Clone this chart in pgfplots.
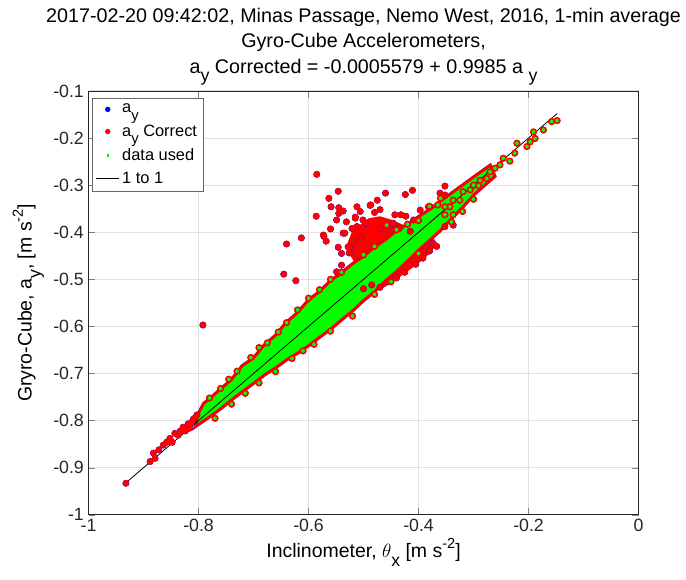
\documentclass[border=0pt]{standalone}
\usepackage{pgfplots}
\usepackage{pgfplotstable}
\pgfplotsset{compat=1.18}
\usepackage{fontspec}
\setmainfont{Liberation Sans}
\newcommand{\sub}[1]{\raisebox{-0.45em}{\fontsize{0.9em}{1em}\selectfont #1}}
\newcommand{\sups}[1]{\raisebox{0.45em}{\fontsize{0.75em}{1em}\selectfont #1}}

% red outliers (a_y corrected, nearly identical to a_y)
\pgfplotstableread{
x y
-0.932 -0.933
-0.888 -0.887
-0.882 -0.869
-0.879 -0.880
-0.872 -0.862
-0.864 -0.852
-0.858 -0.846
-0.852 -0.838
-0.848 -0.846
-0.843 -0.827
-0.837 -0.831
-0.833 -0.822
-0.828 -0.814
-0.824 -0.822
-0.819 -0.807
-0.816 -0.816
-0.812 -0.803
-0.809 -0.796
-0.803 -0.788
-0.792 -0.597
-0.645 -0.489
-0.623 -0.503
-0.640 -0.425
-0.613 -0.412
-0.585 -0.277
-0.546 -0.313
-0.563 -0.328
-0.559 -0.346
-0.586 -0.366
-0.545 -0.348
-0.545 -0.360
-0.549 -0.374
-0.560 -0.393
-0.572 -0.409
-0.568 -0.419
-0.546 -0.432
-0.526 -0.432
-0.526 -0.444
-0.540 -0.470
-0.546 -0.487
-0.549 -0.484
-0.537 -0.355
-0.531 -0.378
-0.521 -0.392
-0.534 -0.402
-0.537 -0.402
-0.540 -0.445
-0.528 -0.431
-0.573 -0.406
-0.512 -0.346
-0.515 -0.370
-0.488 -0.343
-0.475 -0.332
-0.460 -0.317
-0.424 -0.320
-0.411 -0.311
-0.443 -0.363
-0.423 -0.366
-0.409 -0.374
-0.457 -0.386
-0.506 -0.356
-0.515 -0.368
-0.501 -0.374
-0.512 -0.388
-0.496 -0.381
-0.487 -0.342
-0.480 -0.358
-0.470 -0.352
-0.352 -0.321
-0.397 -0.353
-0.382 -0.346
-0.458 -0.385
-0.446 -0.381
-0.352 -0.302
-0.361 -0.317
-0.379 -0.346
-0.352 -0.388
-0.337 -0.385
-0.432 -0.363
-0.520 -0.420
-0.505 -0.410
-0.470 -0.392
-0.435 -0.392
-0.415 -0.398
-0.373 -0.424
-0.380 -0.440
-0.470 -0.517
-0.485 -0.512
-0.455 -0.505
-0.500 -0.520
-0.440 -0.497
-0.425 -0.485
-0.405 -0.468
-0.392 -0.455
-0.367 -0.430
}\outliers

% green (data used) points visible at the band edges and in the upper chain
\pgfplotstableread{
x y
-0.148 -0.163
-0.158 -0.165
-0.173 -0.183
-0.188 -0.201
-0.197 -0.208
-0.203 -0.218
-0.191 -0.187
-0.221 -0.211
-0.225 -0.232
-0.234 -0.249
-0.246 -0.243
-0.252 -0.257
-0.261 -0.264
-0.270 -0.272
-0.276 -0.286
-0.288 -0.290
-0.291 -0.301
-0.300 -0.300
-0.306 -0.310
-0.319 -0.314
-0.325 -0.332
-0.337 -0.332
-0.343 -0.346
-0.352 -0.346
-0.352 -0.363
-0.337 -0.363
-0.365 -0.342
-0.458 -0.385
-0.400 -0.375
-0.420 -0.383
-0.620 -0.565
-0.640 -0.592
-0.690 -0.645
-0.730 -0.695
-0.760 -0.732
-0.600 -0.540
-0.560 -0.500
-0.590 -0.638
-0.520 -0.578
-0.660 -0.696
-0.715 -0.742
-0.450 -0.505
-0.320 -0.356
-0.780 -0.752
-0.745 -0.712
-0.705 -0.666
-0.675 -0.635
-0.655 -0.612
-0.580 -0.522
-0.540 -0.485
-0.500 -0.448
-0.480 -0.430
-0.440 -0.395
-0.380 -0.345
-0.360 -0.328
-0.770 -0.795
-0.740 -0.765
-0.690 -0.720
-0.630 -0.668
-0.610 -0.652
-0.560 -0.610
-0.480 -0.532
-0.400 -0.445
-0.340 -0.378
-0.300 -0.330
}\greens

% dense band of points used in the fit (outline)
\pgfplotstableread{
x y
-0.800 -0.786
-0.790 -0.764
-0.780 -0.755
-0.760 -0.734
-0.740 -0.714
-0.720 -0.684
-0.700 -0.668
-0.680 -0.640
-0.660 -0.620
-0.640 -0.592
-0.620 -0.572
-0.600 -0.545
-0.580 -0.527
-0.560 -0.504
-0.540 -0.487
-0.520 -0.468
-0.500 -0.452
-0.480 -0.433
-0.460 -0.417
-0.440 -0.398
-0.420 -0.384
-0.400 -0.368
-0.380 -0.353
-0.360 -0.335
-0.340 -0.318
-0.320 -0.301
-0.300 -0.284
-0.270 -0.259
-0.262 -0.281
-0.300 -0.320
-0.320 -0.346
-0.340 -0.370
-0.360 -0.395
-0.380 -0.416
-0.400 -0.437
-0.420 -0.460
-0.440 -0.482
-0.460 -0.502
-0.480 -0.525
-0.500 -0.544
-0.520 -0.566
-0.540 -0.585
-0.560 -0.605
-0.580 -0.622
-0.600 -0.640
-0.620 -0.656
-0.640 -0.670
-0.660 -0.687
-0.680 -0.702
-0.700 -0.720
-0.720 -0.737
-0.740 -0.755
-0.760 -0.774
-0.780 -0.791
-0.805 -0.811
}\band

\begin{document}
\begin{tikzpicture}
\begin{axis}[
  scale only axis,
  width=412.5pt, height=317.9pt,
  xmin=-1, xmax=0, ymin=-1, ymax=-0.1,
  xtick={-1,-0.8,-0.6,-0.4,-0.2,0},
  xticklabels={-1,-0.8,-0.6,-0.4,-0.2,0},
  ytick={-1,-0.9,-0.8,-0.7,-0.6,-0.5,-0.4,-0.3,-0.2,-0.1},
  yticklabels={-1,-0.9,-0.8,-0.7,-0.6,-0.5,-0.4,-0.3,-0.2,-0.1},
  tick label style={font=\fontsize{13.3}{16}\selectfont, color=black!85},
  tick align=inside,
  major tick length=5pt,
  axis line style={black!85, line width=0.6pt},
  grid=major,
  major grid style={black!12, line width=0.7pt},
  xlabel={Inclinometer, $\theta$\sub{x} [m s\sups{-2}]},
  ylabel={Gryro-Cube, a\sub{y}, [m s\sups{-2}]},
  label style={font=\fontsize{14.6}{17}\selectfont},
  xlabel style={yshift=2pt},
  ylabel style={yshift=0pt},
  title={2017-02-20 09:42:02, Minas Passage, Nemo West, 2016, 1-min average\\Gyro-Cube Accelerometers,\\a\sub{y} Corrected = -0.0005579 + 0.9985 a \sub{y}},
  title style={font=\fontsize{14.8}{19}\selectfont, align=center, yshift=-5.5pt},
  legend style={at={(0.007,0.984)}, anchor=north west, font=\fontsize{12.3}{14}\selectfont,
    draw=black!60, fill=white, row sep=3.5pt, inner sep=2.5pt},
  legend cell align=left,
  clip=true,
]
\coordinate (ll) at (rel axis cs:0,0);
% a_y (blue, underneath)
\addplot[only marks, mark=*, mark size=2.38pt, mark options={draw=blue, fill=blue}, forget plot] table {\outliers};
% blobs of corrected data not used
\addplot[fill=red, draw=red, line width=1.2pt, forget plot] coordinates {
(-0.525,-0.445) (-0.528,-0.425) (-0.520,-0.400) (-0.505,-0.385) (-0.490,-0.372)
(-0.470,-0.368) (-0.450,-0.375) (-0.430,-0.385) (-0.410,-0.395) (-0.395,-0.405)
(-0.400,-0.440) (-0.450,-0.470) (-0.500,-0.490)} -- cycle;
\addplot[fill=red, draw=red, line width=1.2pt, forget plot] coordinates {
(-0.500,-0.518) (-0.472,-0.521) (-0.458,-0.512) (-0.434,-0.493) (-0.412,-0.474)
(-0.395,-0.459) (-0.379,-0.442) (-0.369,-0.426) (-0.378,-0.400) (-0.450,-0.460)} -- cycle;
% a_y corrected outliers (red)
\addplot[only marks, mark=*, mark size=2.25pt, mark options={draw=red, fill=red}, forget plot] table {\outliers};
% band of data used
\addplot[fill=red, draw=red!80!blue, line width=3.0pt, forget plot] table {\band} -- cycle;
\addplot[only marks, mark=*, mark size=2.3pt, mark options={draw=red!80!blue, fill=red, line width=0.4pt}, forget plot] table {\greens};
\addplot[fill=green, draw=red, line width=1.6pt, forget plot] table {\band} -- cycle;
\addplot[only marks, mark=*, mark size=2.1pt, mark options={draw=red, fill=green, line width=1.1pt}, forget plot] table {\greens};
% 1 to 1 line
\addplot[black, line width=0.6pt, forget plot] coordinates {(-0.932,-0.932) (-0.148,-0.148)};
% legend
\addlegendimage{only marks, mark=*, mark size=1.8pt, blue}
\addlegendentry{a\sub{y}}
\addlegendimage{only marks, mark=*, mark size=1.8pt, red}
\addlegendentry{a\sub{y} Correct}
\addlegendimage{only marks, mark=square*, mark size=0.7pt, green}
\addlegendentry{data used}
\addlegendimage{black, line width=0.6pt}
\addlegendentry{1 to 1}
\end{axis}
\pgfresetboundingbox
\path (ll) ++(-66.4pt,-48.15pt) rectangle ++(514.5pt,434.25pt);
\end{tikzpicture}
\end{document}
